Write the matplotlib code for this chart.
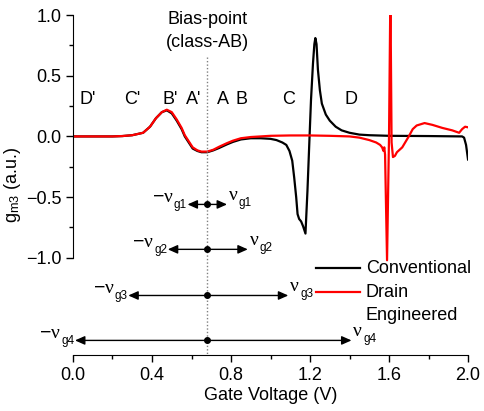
import matplotlib
matplotlib.use("Agg")
import matplotlib.pyplot as plt

plt.rcParams['font.family'] = ['Liberation Sans', 'DejaVu Sans']
plt.rcParams['mathtext.fontset'] = 'custom'
plt.rcParams['mathtext.rm'] = 'Liberation Sans'
plt.rcParams['mathtext.it'] = 'Liberation Serif'
plt.rcParams['font.size'] = 13

# conventional device
v_conv = [0, 0.1, 0.2, 0.25, 0.3, 0.355, 0.39, 0.42, 0.45, 0.475, 0.5, 0.525, 0.55,
          0.566, 0.59, 0.606, 0.63, 0.65, 0.68, 0.71, 0.74, 0.78, 0.81, 0.85, 0.9,
          0.95, 1.0, 1.03, 1.06, 1.08, 1.096, 1.11, 1.12, 1.13, 1.137, 1.145, 1.155,
          1.165, 1.177, 1.187, 1.197, 1.205, 1.215, 1.222, 1.227, 1.233, 1.24, 1.25,
          1.26, 1.28, 1.30, 1.33, 1.36, 1.4, 1.45, 1.5, 1.6, 1.8, 1.97, 1.98, 1.99, 2.0]
g_conv = [0, 0, 0, 0.003, 0.01, 0.03, 0.08, 0.15, 0.2, 0.215, 0.19, 0.13, 0.06,
          0.0, -0.06, -0.10, -0.12, -0.13, -0.13, -0.115, -0.095, -0.065, -0.045, -0.025, -0.015,
          -0.015, -0.02, -0.03, -0.05, -0.07, -0.12, -0.2, -0.34, -0.5, -0.64, -0.68, -0.70,
          -0.74, -0.80, -0.45, -0.03, 0.3, 0.6, 0.76, 0.81, 0.76, 0.55, 0.38,
          0.27, 0.18, 0.13, 0.08, 0.05, 0.03, 0.015, 0.01, 0.005, 0.003, 0.0, -0.01, -0.07, -0.19]

# drain engineered device
v_de = [0, 0.1, 0.2, 0.25, 0.3, 0.355, 0.39, 0.42, 0.45, 0.475, 0.5, 0.525, 0.55,
        0.566, 0.59, 0.606, 0.63, 0.65, 0.68, 0.71, 0.74, 0.78, 0.81, 0.85, 0.9,
        0.95, 1.0, 1.1, 1.2, 1.3, 1.4, 1.45, 1.5, 1.535, 1.555, 1.565, 1.572, 1.576,
        1.58, 1.59, 1.60, 1.607, 1.613, 1.62, 1.63, 1.64, 1.667, 1.70, 1.72, 1.74,
        1.78, 1.82, 1.87, 1.92, 1.955, 1.97, 1.985, 2.0]
g_de = [0, 0, 0, 0.003, 0.01, 0.03, 0.08, 0.15, 0.2, 0.22, 0.2, 0.14, 0.07,
        0.01, -0.05, -0.09, -0.115, -0.125, -0.125, -0.11, -0.085, -0.055, -0.035, -0.015, -0.005,
        0.0, 0.005, 0.008, 0.008, 0.005, 0.0, -0.01, -0.03, -0.05, -0.07, -0.09, -0.12, -0.09,
        -0.15, -1.02, 0.0, 1.2, -0.05, -0.17, -0.16, -0.13, -0.09, 0.0, 0.06, 0.09,
        0.11, 0.095, 0.07, 0.05, 0.03, 0.06, 0.08, 0.075]

bias_v = 0.68
regions = ["D'", "C'", "B'", "A'", "A", "B", "C", "D"]
region_v = [0.075, 0.30, 0.49, 0.61, 0.76, 0.855, 1.09, 1.41]
swing_left = [0.58, 0.48, 0.28, 0.01]
swing_right = [0.78, 0.885, 1.09, 1.41]
swing_y = [-0.56, -0.93, -1.31, -1.68]
swing_names = ["g1", "g2", "g3", "g4"]

fig = plt.figure(figsize=(4.85, 4.11), dpi=100)
ax = fig.add_axes([0.1505, 0.1363, 0.8145, 0.8272])

ax.plot(v_conv, g_conv, color='black', lw=1.6, label='Conventional')
ax.plot(v_de, g_de, color='red', lw=1.6, label='Drain\nEngineered')

ax.plot([bias_v, bias_v], [0.65, -1.8], color='gray', ls=(0, (1, 1.5)), lw=1.0)
ax.text(bias_v, 0.96, "Bias-point", ha='center', va='center')
ax.text(bias_v, 0.77, "(class-AB)", ha='center', va='center')

for name, xv in zip(regions, region_v):
    ax.text(xv, 0.30, name, ha='center', va='center')

arrow_style = dict(arrowstyle='-|>,head_length=0.45,head_width=0.2', color='black', lw=1.0,
                   shrinkA=0, shrinkB=0)
for xl, xr, yv, nm in zip(swing_left, swing_right, swing_y, swing_names):
    ax.annotate('', xy=(xl, yv), xytext=(bias_v, yv), arrowprops=arrow_style)
    ax.annotate('', xy=(xr, yv), xytext=(bias_v, yv), arrowprops=arrow_style)
    ax.plot([bias_v], [yv], 'o', color='black', ms=4)
    # left label: subscript hugs the arrow tip, -nu sits above-left of it
    sub_l = ax.text(xl - 0.004, yv - 0.03, nm, ha='right', va='baseline', fontsize=8.5)
    ax.annotate(r'$-\nu$', xy=(0, 0), xycoords=sub_l, xytext=(0, 6.5),
                textcoords='offset points', ha='right', va='baseline', fontsize=14)
    # right label
    nu_r = ax.text(xr + 0.004, yv + 0.035, r'$\nu$', ha='left', va='baseline', fontsize=14)
    ax.annotate(nm, xy=(1, 0), xycoords=nu_r, xytext=(0.5, -1.5),
                textcoords='offset points', ha='left', va='baseline', fontsize=8.5)

# legend drawn by hand so the red line sits beside "Drain"
ax.plot([0.615, 0.726], [0.255, 0.255], transform=ax.transAxes, color='black', lw=1.6)
ax.plot([0.615, 0.726], [0.185, 0.185], transform=ax.transAxes, color='red', lw=1.6)
ax.text(0.741, 0.255, "Conventional", transform=ax.transAxes, va='center')
ax.text(0.741, 0.185, "Drain", transform=ax.transAxes, va='center')
ax.text(0.741, 0.115, "Engineered", transform=ax.transAxes, va='center')

ax.set_xlim(0, 2.0)
ax.set_ylim(-1.8, 1.0)
ax.set_xticks([0, 0.4, 0.8, 1.2, 1.6, 2.0])
ax.set_xticklabels(["0.0", "0.4", "0.8", "1.2", "1.6", "2.0"])
ax.set_xticks([0.2, 0.6, 1.0, 1.4, 1.8], minor=True)
ax.set_yticks([-1.0, -0.5, 0.0, 0.5, 1.0])
ax.set_yticks([-0.75, -0.25, 0.25, 0.75], minor=True)
ax.spines['top'].set_visible(False)
ax.spines['right'].set_visible(False)
ax.spines['left'].set_bounds(-1.0, 1.0)
ax.tick_params(which='major', direction='out', length=5, width=1)
ax.tick_params(which='minor', direction='out', length=3, width=1)
ax.set_xlabel("Gate Voltage (V)", labelpad=2)
ax.set_ylabel(r"g$_{\mathrm{m3}}$ (a.u.)", labelpad=2)

fig.savefig("out.png", dpi=100)
